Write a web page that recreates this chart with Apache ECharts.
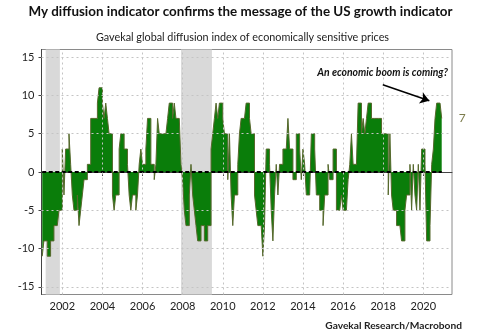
<!DOCTYPE html>
<html>
<head>
<meta charset="utf-8">
<script src="https://cdn.jsdelivr.net/npm/echarts@6/dist/echarts.min.js"></script>
<style>
  html, body { margin: 0; padding: 0; background: #ffffff; }
  #chart { width: 500px; height: 335px; }
</style>
</head>
<body>
<div id="chart"></div>
<script>
// Monthly diffusion index readings, January 2001 through December 2020
const firstYear = 2001;
const values2001to2005 = [
  -11, -9, -9, -11, -11, -9, -9, -7, -7, -7, -5, -5,
  3, -3, 3, 3, 5, 1, -3, -5, -5, -3, -7, -5,
  -3, -1, -1, 1, 1, 7, 7, 7, 7, 9, 11, 11,
  9, 7, 9, 7, 5, 5, -3, -5, -3, -3, 3, 5,
  5, 3, 3, 1, -3, -5, -3, -3, -5, -3, 1, 3
];
const values2006to2010 = [
  1, 1, 3, 7, 7, 1, 1, -1, 1, 7, 5, 5,
  5, 5, 5, 7, 9, 9, 7, 9, 7, 7, 7, 1,
  -1, -5, -7, -7, -3, 1, -3, -5, -7, -9, -9, -7,
  -7, -9, -9, -7, -7, 3, 5, 7, 9, 7, 9, 9,
  7, 5, 5, -1, 5, -3, -7, -3, -3, 1, 5, 7
];
const values2011to2015 = [
  7, 7, 9, 9, 7, 5, 5, -3, -5, -7, -7, -7,
  -11, -7, 3, 3, 1, -5, -9, -3, 1, -3, 1, 1,
  3, 3, 3, 7, 3, 3, -1, -1, 5, 5, 3, -1,
  3, 1, -3, -3, -3, 5, 5, 3, -3, -3, -5, -5,
  -7, -3, -3, 1, -1, -1, 3, 3, -5, -5, -5, -3
];
const values2016to2020 = [
  -5, -5, -5, -1, 1, 5, 1, 1, 1, 9, 9, 5,
  7, 5, 7, 9, 9, 7, 7, 7, 7, 7, 7, 5,
  5, 5, 5, -3, 5, -3, -5, -5, -7, -7, -7, -9,
  -9, -5, -3, -3, 1, -5, 1, -3, -5, 1, -5, 3,
  3, 1, -9, -9, -7, 1, 3, 7, 9, 9, 9, 7
];
const values = values2001to2005.concat(values2006to2010, values2011to2015, values2016to2020);

const yTickValues = [-15, -10, -5, 0, 5, 10, 15];
const xTickValues = [2002, 2004, 2006, 2008, 2010, 2012, 2014, 2016, 2018, 2020];
// US recessions, as fractional years
const recessionSpans = [[2001.17, 2001.88], [2007.92, 2009.46]];

const titleText = 'My diffusion indicator confirms the message of the US growth indicator';
const subtitleText = 'Gavekal global diffusion index of economically sensitive prices';
const sourceText = 'Gavekal Research/Macrobond';
const noteText = 'An economic boom is coming?';
// Arrow from the note down to the latest peak, in data units
const noteArrow = [[2017.98, 11.4], [2020.3, 9.3]];

const FONT = 'Lato, "Open Sans", sans-serif';

const points = values.map((v, i) => [firstYear + i / 12, v]);
const lastX = points[points.length - 1][0];

const chart = echarts.init(document.getElementById('chart'), null, { renderer: 'canvas' });

chart.setOption({
  animation: false,
  backgroundColor: '#ffffff',
  grid: {
    left: 41.5, top: 49.5, width: 410.5, height: 245,
    show: true, borderColor: '#8a8a8a', borderWidth: 1, backgroundColor: 'transparent'
  },
  xAxis: {
    type: 'value',
    min: 2000.963, max: 2021.43,
    axisLine: { show: true, lineStyle: { color: '#444', width: 1 } },
    axisTick: { show: true, customValues: xTickValues, length: 4, lineStyle: { color: '#444' } },
    axisLabel: {
      customValues: xTickValues, margin: 6, color: '#222',
      fontFamily: FONT, fontSize: 11,
      formatter: v => String(Math.round(v))
    },
    splitLine: { show: false }
  },
  yAxis: {
    type: 'value',
    min: -16, max: 16,
    axisLine: { show: true, lineStyle: { color: '#444', width: 1 } },
    axisTick: { show: true, customValues: yTickValues, length: 3, lineStyle: { color: '#444' } },
    axisLabel: {
      customValues: yTickValues, margin: 7, color: '#222',
      fontFamily: FONT, fontSize: 11
    },
    splitLine: { show: false }
  },
  series: [
    {
      // dotted reference grid
      name: 'grid',
      type: 'line', z: 1, silent: true,
      data: [[firstYear, 0]], symbol: 'none',
      lineStyle: { opacity: 0 },
      markLine: {
        silent: true, symbol: 'none', label: { show: false },
        lineStyle: { color: '#c4c4c4', type: [2, 3], width: 1 },
        data: xTickValues.map(x => ({ xAxis: x }))
          .concat(yTickValues.filter(v => v !== 0).map(y => ({ yAxis: y })))
      }
    },
    {
      // recession shading
      name: 'recessions',
      type: 'line', z: 2, silent: true,
      data: [[firstYear, 0]], symbol: 'none',
      lineStyle: { opacity: 0 },
      markArea: {
        silent: true,
        itemStyle: { color: '#d9d9d9' },
        data: recessionSpans.map(([a, b]) => [{ xAxis: a }, { xAxis: b }])
      }
    },
    {
      name: 'Diffusion index',
      type: 'line', z: 3,
      step: 'end',
      data: points,
      symbol: 'none',
      lineStyle: { color: '#56682c', width: 1 },
      areaStyle: { color: '#0a7d0a', opacity: 1 },
      endLabel: {
        show: true, distance: 17,
        formatter: p => String(p.value[1]),
        color: '#7c7c4c', fontFamily: FONT, fontSize: 12
      }
    },
    {
      // dashed zero line with the note arrow
      name: 'zero',
      type: 'line', z: 4, silent: true,
      data: [[firstYear, 0], [lastX, 0]],
      symbol: 'none',
      lineStyle: { color: '#000', width: 2, type: [4, 2.5] },
      markLine: {
        silent: true,
        symbol: ['none', 'arrow'], symbolSize: 9,
        label: { show: false },
        lineStyle: { color: '#000', width: 1.5, type: 'solid' },
        data: [[{ coord: noteArrow[0] }, { coord: noteArrow[1] }]]
      }
    }
  ],
  graphic: [
    {
      type: 'text', x: 240.5, y: 12, silent: true,
      style: { text: titleText, fill: '#111', align: 'center', verticalAlign: 'middle',
               font: 'bold 13.4px ' + FONT }
    },
    {
      type: 'text', x: 242.5, y: 37.5, silent: true,
      style: { text: subtitleText, fill: '#222', align: 'center', verticalAlign: 'middle',
               font: '10.8px ' + FONT }
    },
    {
      type: 'text', x: 448, y: 73, silent: true, z: 10,
      style: { text: noteText, fill: '#111', align: 'right', verticalAlign: 'middle',
               font: 'italic bold 10.4px ' + FONT }
    },
    {
      type: 'text', x: 462, y: 326, silent: true,
      style: { text: sourceText, fill: '#222', align: 'right', verticalAlign: 'middle',
               font: 'bold 10.2px ' + FONT }
    }
  ]
});
</script>
</body>
</html>
